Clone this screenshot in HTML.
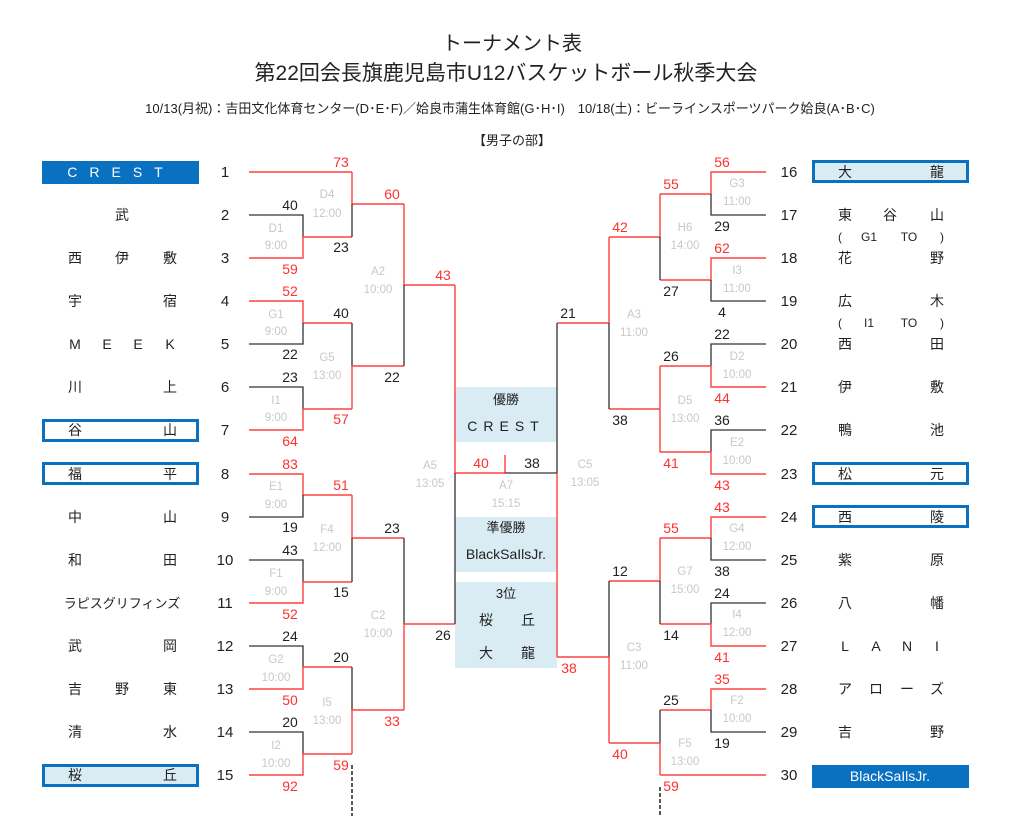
<!DOCTYPE html>
<html><head><meta charset="utf-8"><style>
body{margin:0;background:#fff;}
svg{display:block;font-family:"Liberation Sans","Noto Sans CJK JP",sans-serif;}
.r{stroke:#ff4040;stroke-width:1.4;fill:none}
.k{stroke:#333;stroke-width:1.3;fill:none}
.s{font-size:14px;fill:#222;text-anchor:middle}
.sr{font-size:14px;fill:#ff3030;text-anchor:middle}
.g{font-size:11.5px;fill:#c8c8c8;text-anchor:middle}
.n{font-size:15px;fill:#222;text-anchor:middle}
.t{font-size:14px;fill:#222;text-anchor:middle}
</style></head><body>
<svg width="1024" height="816" viewBox="0 0 1024 816">
<text x="512" y="50" style="font-size:20px;fill:#222;text-anchor:middle">トーナメント表</text>
<text x="506" y="80" style="font-size:21px;fill:#222;text-anchor:middle">第22回会長旗鹿児島市U12バスケットボール秋季大会</text>
<text x="510" y="113" style="font-size:13px;fill:#222;text-anchor:middle">10/13(月祝)：吉田文化体育センター(D･E･F)／姶良市蒲生体育館(G･H･I)　10/18(土)：ビーラインスポーツパーク姶良(A･B･C)</text>
<text x="512" y="145" style="font-size:13px;fill:#222;text-anchor:middle">【男子の部】</text>

<rect x="455" y="387" width="102" height="55" fill="#d9ebf3"/>
<rect x="455" y="517" width="102" height="55" fill="#d9ebf3"/>
<rect x="455" y="582" width="102" height="86" fill="#d9ebf3"/>
<text x="506" y="404" class="t" style="font-size:13px">優勝</text>
<text x="506" y="431" class="t" style="letter-spacing:6px">CREST</text>
<text x="506" y="532" class="t" style="font-size:13px">準優勝</text>
<text x="506" y="559" class="t" style="font-size:14px">BlackSaIlsJr.</text>
<text x="506" y="598" class="t" style="font-size:13px">3位</text>
<text x="486" y="625" class="t">桜</text><text x="528" y="625" class="t">丘</text>
<text x="486" y="658" class="t">大</text><text x="528" y="658" class="t">龍</text>

<path class="r" d="M249 172H352"/>
<path class="k" d="M249 215H303V237"/><path class="r" d="M249 258H303V237H352"/>
<path class="r" d="M249 301H303V323H352"/><path class="k" d="M249 344H303V323"/>
<path class="k" d="M249 387H303V409"/><path class="r" d="M249 430H303V409H352"/>
<path class="r" d="M249 474H303V495H352"/><path class="k" d="M249 517H303V495"/>
<path class="k" d="M249 560H303V582"/><path class="r" d="M249 603H303V582H352"/>
<path class="k" d="M249 646H303V667"/><path class="r" d="M249 689H303V667H352"/>
<path class="k" d="M249 732H303V754"/><path class="r" d="M249 775H303V754H352"/>
<path class="r" d="M352 172V204H404"/><path class="k" d="M352 204V237"/>
<path class="k" d="M352 323V366"/><path class="r" d="M352 366V409"/><path class="r" d="M352 366H404"/>
<path class="r" d="M352 495V538H404"/><path class="k" d="M352 538V582"/>
<path class="k" d="M352 667V710"/><path class="r" d="M352 710V754"/><path class="r" d="M352 710H404"/>
<path class="r" d="M404 204V285H455"/><path class="k" d="M404 285V366"/>
<path class="k" d="M404 538V624"/><path class="r" d="M404 624V710"/><path class="r" d="M404 624H455"/>
<path class="r" d="M455 285V473H505"/><path class="k" d="M455 473V624"/>
<path class="r" d="M505 455V473"/><path class="k" d="M505 473H557"/>
<path class="r" d="M766 172H711V194H660"/><path class="k" d="M766 215H711V194"/>
<path class="r" d="M766 258H711V280H660"/><path class="k" d="M766 301H711V280"/>
<path class="k" d="M766 344H711V366"/><path class="r" d="M766 387H711V366H660"/>
<path class="k" d="M766 430H711V452"/><path class="r" d="M766 474H711V452H660"/>
<path class="r" d="M766 517H711V538H660"/><path class="k" d="M766 560H711V538"/>
<path class="k" d="M766 603H711V624"/><path class="r" d="M766 646H711V624H660"/>
<path class="r" d="M766 689H711V710H660"/><path class="k" d="M766 732H711V710"/>
<path class="r" d="M766 775H660"/>
<path class="r" d="M660 194V237H609"/><path class="k" d="M660 237V280"/>
<path class="r" d="M660 366V452"/><path class="r" d="M660 409H609"/>
<path class="r" d="M660 538V581H609"/><path class="k" d="M660 581V624"/>
<path class="k" d="M660 710V743"/><path class="r" d="M660 743V775"/><path class="r" d="M660 743H609"/>
<path class="r" d="M609 237V323H557"/><path class="k" d="M609 323V409"/>
<path class="k" d="M609 581V657"/><path class="r" d="M609 657V743"/><path class="r" d="M609 657H557"/>
<path class="k" d="M557 323V473"/><path class="r" d="M557 473V657"/>
<path d="M352 765V816" stroke="#222" stroke-width="1.5" stroke-dasharray="4,2"/>
<path d="M660 787V816" stroke="#222" stroke-width="1.5" stroke-dasharray="4,2"/>

<text x="341" y="167" class="sr">73</text>
<text x="290" y="210" class="s">40</text><text x="290" y="274" class="sr">59</text>
<text x="341" y="252" class="s">23</text><text x="392" y="199" class="sr">60</text>
<text x="290" y="296" class="sr">52</text><text x="290" y="359" class="s">22</text>
<text x="290" y="382" class="s">23</text><text x="290" y="446" class="sr">64</text>
<text x="341" y="318" class="s">40</text><text x="341" y="424" class="sr">57</text>
<text x="392" y="382" class="s">22</text><text x="443" y="280" class="sr">43</text>
<text x="290" y="469" class="sr">83</text><text x="290" y="532" class="s">19</text>
<text x="290" y="555" class="s">43</text><text x="290" y="619" class="sr">52</text>
<text x="341" y="490" class="sr">51</text><text x="341" y="597" class="s">15</text>
<text x="392" y="533" class="s">23</text>
<text x="290" y="641" class="s">24</text><text x="290" y="705" class="sr">50</text>
<text x="290" y="727" class="s">20</text><text x="290" y="791" class="sr">92</text>
<text x="341" y="662" class="s">20</text><text x="341" y="770" class="sr">59</text>
<text x="392" y="726" class="sr">33</text><text x="443" y="640" class="s">26</text>
<text x="481" y="468" class="sr">40</text><text x="532" y="468" class="s">38</text>
<text x="722" y="167" class="sr">56</text><text x="722" y="231" class="s">29</text>
<text x="722" y="253" class="sr">62</text><text x="722" y="317" class="s">4</text>
<text x="671" y="189" class="sr">55</text><text x="671" y="296" class="s">27</text>
<text x="620" y="232" class="sr">42</text>
<text x="722" y="339" class="s">22</text><text x="722" y="403" class="sr">44</text>
<text x="722" y="425" class="s">36</text><text x="671" y="468" class="sr">41</text>
<text x="671" y="361" class="s">26</text><text x="620" y="425" class="s">38</text>
<text x="568" y="318" class="s">21</text>
<text x="722" y="490" class="sr">43</text>
<text x="722" y="512" class="sr">43</text><text x="722" y="576" class="s">38</text>
<text x="722" y="598" class="s">24</text><text x="722" y="662" class="sr">41</text>
<text x="671" y="533" class="sr">55</text><text x="671" y="640" class="s">14</text>
<text x="620" y="576" class="s">12</text>
<text x="722" y="684" class="sr">35</text><text x="722" y="748" class="s">19</text>
<text x="671" y="705" class="s">25</text><text x="671" y="791" class="sr">59</text>
<text x="620" y="759" class="sr">40</text><text x="569" y="673" class="sr">38</text>

<g class="g">
<text x="327" y="198">D4</text><text x="327" y="217">12:00</text>
<text x="276" y="232">D1</text><text x="276" y="249">9:00</text>
<text x="276" y="318">G1</text><text x="276" y="335">9:00</text>
<text x="327" y="361">G5</text><text x="327" y="379">13:00</text>
<text x="276" y="404">I1</text><text x="276" y="421">9:00</text>
<text x="378" y="275">A2</text><text x="378" y="293">10:00</text>
<text x="430" y="469">A5</text><text x="430" y="487">13:05</text>
<text x="506" y="489">A7</text><text x="506" y="507">15:15</text>
<text x="276" y="490">E1</text><text x="276" y="508">9:00</text>
<text x="327" y="533">F4</text><text x="327" y="551">12:00</text>
<text x="276" y="577">F1</text><text x="276" y="595">9:00</text>
<text x="378" y="619">C2</text><text x="378" y="637">10:00</text>
<text x="276" y="663">G2</text><text x="276" y="681">10:00</text>
<text x="327" y="706">I5</text><text x="327" y="724">13:00</text>
<text x="276" y="749">I2</text><text x="276" y="767">10:00</text>
<text x="737" y="187">G3</text><text x="737" y="205">11:00</text>
<text x="685" y="231">H6</text><text x="685" y="249">14:00</text>
<text x="737" y="274">I3</text><text x="737" y="292">11:00</text>
<text x="634" y="318">A3</text><text x="634" y="336">11:00</text>
<text x="737" y="360">D2</text><text x="737" y="378">10:00</text>
<text x="685" y="404">D5</text><text x="685" y="422">13:00</text>
<text x="737" y="446">E2</text><text x="737" y="464">10:00</text>
<text x="585" y="468">C5</text><text x="585" y="486">13:05</text>
<text x="737" y="532">G4</text><text x="737" y="550">12:00</text>
<text x="685" y="575">G7</text><text x="685" y="593">15:00</text>
<text x="737" y="618">I4</text><text x="737" y="636">12:00</text>
<text x="634" y="651">C3</text><text x="634" y="669">11:00</text>
<text x="737" y="704">F2</text><text x="737" y="722">10:00</text>
<text x="685" y="747">F5</text><text x="685" y="765">13:00</text>
</g>

<g class="n">
<text x="225" y="177">1</text><text x="225" y="220">2</text><text x="225" y="263">3</text><text x="225" y="306">4</text><text x="225" y="349">5</text><text x="225" y="392">6</text><text x="225" y="435">7</text><text x="225" y="479">8</text><text x="225" y="522">9</text><text x="225" y="565">10</text><text x="225" y="608">11</text><text x="225" y="651">12</text><text x="225" y="694">13</text><text x="225" y="737">14</text><text x="225" y="780">15</text>
<text x="789" y="177">16</text><text x="789" y="220">17</text><text x="789" y="263">18</text><text x="789" y="306">19</text><text x="789" y="349">20</text><text x="789" y="392">21</text><text x="789" y="435">22</text><text x="789" y="479">23</text><text x="789" y="522">24</text><text x="789" y="565">25</text><text x="789" y="608">26</text><text x="789" y="651">27</text><text x="789" y="694">28</text><text x="789" y="737">29</text><text x="789" y="780">30</text>
</g>

<rect x="42" y="161" width="157" height="23" fill="#0a70c0"/>
<rect x="43.5" y="420.5" width="154" height="20" fill="#fff" stroke="#0a70c0" stroke-width="3"/>
<rect x="43.5" y="463.5" width="154" height="20" fill="#fff" stroke="#0a70c0" stroke-width="3"/>
<rect x="43.5" y="765.5" width="154" height="20" fill="#d9ebf3" stroke="#0a70c0" stroke-width="3"/>
<rect x="813.5" y="161.5" width="154" height="20" fill="#d9ebf3" stroke="#0a70c0" stroke-width="3"/>
<rect x="813.5" y="463.5" width="154" height="20" fill="#fff" stroke="#0a70c0" stroke-width="3"/>
<rect x="813.5" y="506.5" width="154" height="20" fill="#fff" stroke="#0a70c0" stroke-width="3"/>
<rect x="812" y="765" width="157" height="23" fill="#0a70c0"/>

<g class="t">
<text x="121" y="177" style="fill:#fff;letter-spacing:12px">CREST</text>
<text x="122" y="220">武</text>
<text x="75" y="263">西</text><text x="122" y="263">伊</text><text x="170" y="263">敷</text>
<text x="75" y="306">宇</text><text x="170" y="306">宿</text>
<text x="75" y="349">M</text><text x="107" y="349">E</text><text x="138" y="349">E</text><text x="170" y="349">K</text>
<text x="75" y="392">川</text><text x="170" y="392">上</text>
<text x="75" y="435">谷</text><text x="170" y="435">山</text>
<text x="75" y="479">福</text><text x="170" y="479">平</text>
<text x="75" y="522">中</text><text x="170" y="522">山</text>
<text x="75" y="565">和</text><text x="170" y="565">田</text>
<text x="122" y="608" style="font-size:13px">ラピスグリフィンズ</text>
<text x="75" y="651">武</text><text x="170" y="651">岡</text>
<text x="75" y="694">吉</text><text x="122" y="694">野</text><text x="170" y="694">東</text>
<text x="75" y="737">清</text><text x="170" y="737">水</text>
<text x="75" y="780">桜</text><text x="170" y="780">丘</text>
<text x="845" y="177">大</text><text x="937" y="177">龍</text>
<text x="845" y="220">東</text><text x="890" y="220">谷</text><text x="937" y="220">山</text>
<text x="840" y="241" style="font-size:12px">(</text><text x="869" y="241" style="font-size:12px">G1</text><text x="909" y="241" style="font-size:12px">TO</text><text x="942" y="241" style="font-size:12px">)</text>
<text x="845" y="263">花</text><text x="937" y="263">野</text>
<text x="845" y="306">広</text><text x="937" y="306">木</text>
<text x="840" y="327" style="font-size:12px">(</text><text x="869" y="327" style="font-size:12px">I1</text><text x="909" y="327" style="font-size:12px">TO</text><text x="942" y="327" style="font-size:12px">)</text>
<text x="845" y="349">西</text><text x="937" y="349">田</text>
<text x="845" y="392">伊</text><text x="937" y="392">敷</text>
<text x="845" y="435">鴨</text><text x="937" y="435">池</text>
<text x="845" y="479">松</text><text x="937" y="479">元</text>
<text x="845" y="522">西</text><text x="937" y="522">陵</text>
<text x="845" y="565">紫</text><text x="937" y="565">原</text>
<text x="845" y="608">八</text><text x="937" y="608">幡</text>
<text x="845" y="651">L</text><text x="876" y="651">A</text><text x="907" y="651">N</text><text x="937" y="651">I</text>
<text x="845" y="694">ア</text><text x="876" y="694">ロ</text><text x="907" y="694">ー</text><text x="937" y="694">ズ</text>
<text x="845" y="737">吉</text><text x="937" y="737">野</text>
<text x="890" y="781" style="fill:#fff">BlackSaIlsJr.</text>
</g>
</svg>
</body></html>
